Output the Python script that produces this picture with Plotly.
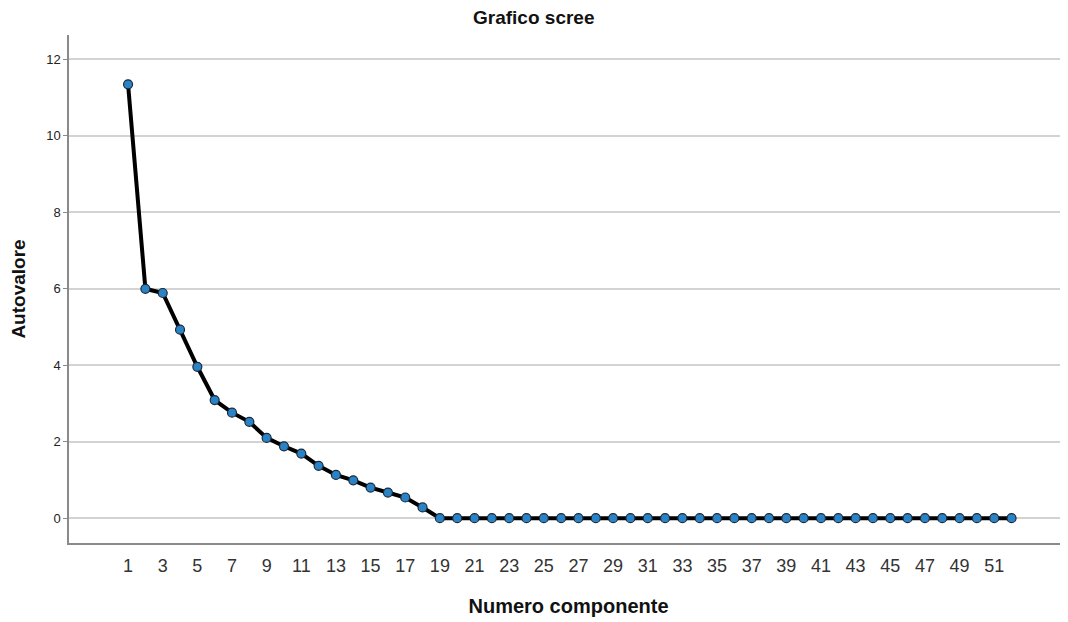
import plotly.graph_objects as go

components = list(range(1, 53))
eigenvalues = [11.35, 6.00, 5.89, 4.93, 3.96, 3.09, 2.76, 2.52, 2.10, 1.88,
               1.69, 1.37, 1.13, 0.99, 0.80, 0.67, 0.54, 0.28] + [0.0] * 34
x_ticks = list(range(1, 52, 2))
y_ticks = [0, 2, 4, 6, 8, 10, 12]

fig = go.Figure()
fig.add_trace(go.Scatter(
    x=components, y=eigenvalues, mode="lines+markers",
    line=dict(color="black", width=4),
    marker=dict(size=9, color="#2b83c6", line=dict(color="#1a2a3a", width=1.2)),
    showlegend=False,
))

fig.update_layout(
    width=1060, height=614,
    margin=dict(l=61, r=0, t=27, b=79),
    paper_bgcolor="white", plot_bgcolor="white",
    font=dict(family="Liberation Sans, Arial, sans-serif", color="#222"),
    title=dict(text="<b>Grafico scree</b>", x=0.496, xanchor="center", y=0.985, yanchor="middle",
               font=dict(size=19, color="#111")),
)
fig.update_xaxes(
    range=[-2.41, 55.26], tickvals=x_ticks, ticktext=[str(t) for t in x_ticks],
    showgrid=False, zeroline=False, showline=True, linecolor="#8a8a8a", linewidth=1.5,
    ticks="outside", ticklen=6, tickcolor="rgba(0,0,0,0)",
    tickfont=dict(size=18, color="#333"),
    title=dict(text="<b>Numero componente</b>", font=dict(size=20, color="#111"), standoff=24),
)
fig.update_yaxes(
    range=[-0.65, 12.64], tickvals=y_ticks,
    showgrid=True, gridcolor="#d3d3d3", gridwidth=1.5,
    zeroline=False, showline=True, linecolor="#8a8a8a", linewidth=1.5,
    ticks="outside", ticklen=4, tickcolor="#8a8a8a",
    tickfont=dict(size=13, color="#222"),
    title=dict(text="<b>Autovalore</b>", font=dict(size=19, color="#111"), standoff=16),
)

fig.write_html("out.html")
